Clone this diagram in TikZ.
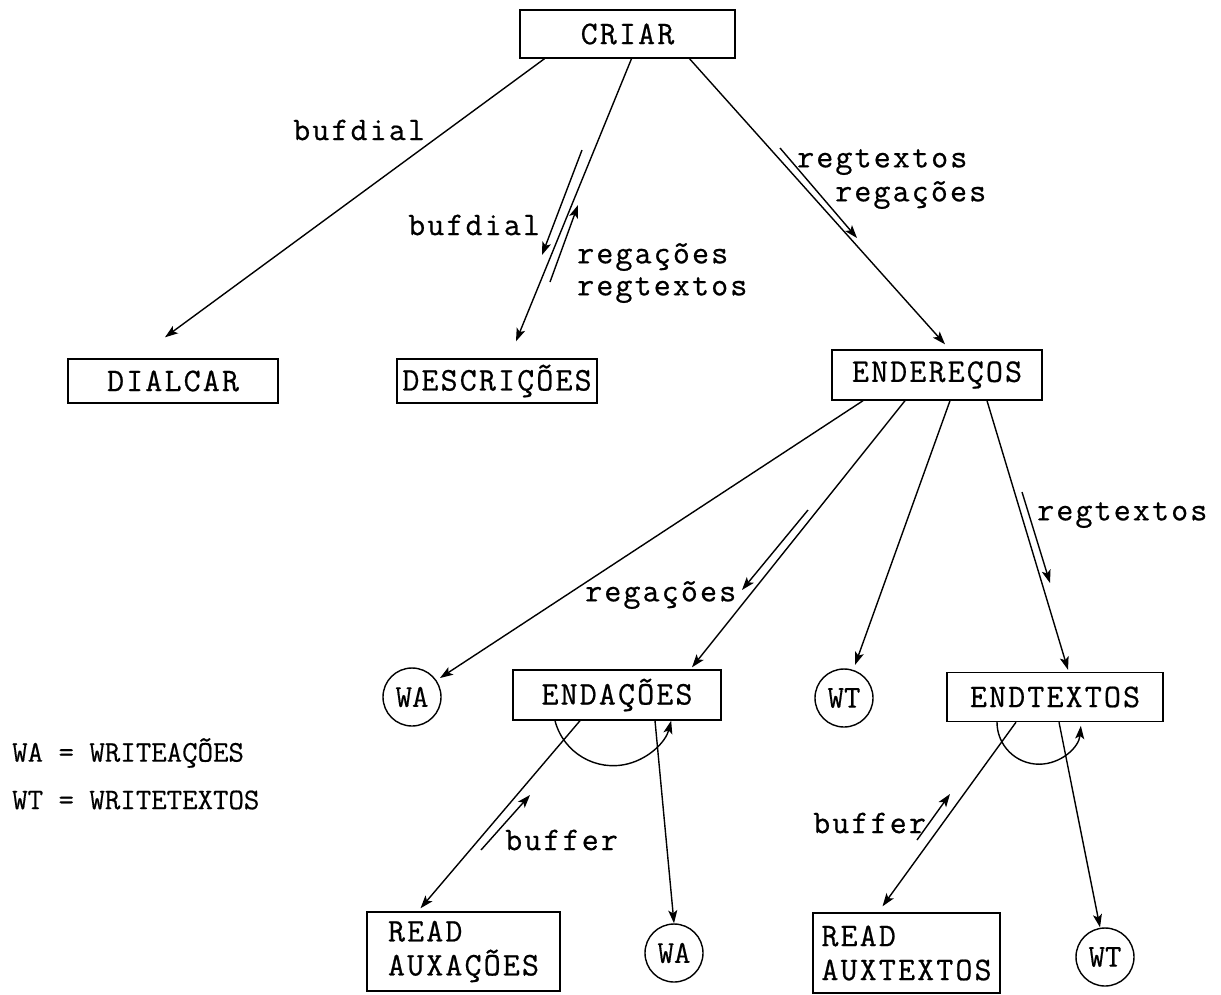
\documentclass[tikz,border=0pt]{standalone}
\usepackage{fontspec}
\newfontfamily\tw{Latin Modern Mono}[LetterSpace=6.5,FakeBold=0.6]
\newfontfamily\cw{Latin Modern Mono}[FakeBold=0.4]
\usetikzlibrary{arrows.meta}
\begin{document}
\begin{tikzpicture}[x=1pt,y=-1pt,
  every node/.style={font=\tw\fontsize{33}{34}\selectfont},
  box/.style={draw, line width=1.4pt, inner sep=0pt, align=center},
  circ/.style={draw, circle, line width=1.4pt, minimum size=58pt, inner sep=0pt, font=\cw\fontsize{32}{32}\selectfont},
  con/.style={line width=1.4pt, -{Stealth[length=13pt,width=9pt,inset=3pt]}},
  lbl/.style={anchor=west, inner sep=0pt},
  leg/.style={anchor=west, inner sep=0pt, font=\cw\fontsize{30}{30}\selectfont},
]
\fill[white] (0,0) rectangle (1221,994);
\useasboundingbox (0,0) rectangle (1221,994);

% boxes and circles
\node[box, minimum width=215pt, minimum height=48pt] (criar) at (627.5,34) {CRIAR};
\node[box, minimum width=210pt, minimum height=44pt] (dialcar) at (173,381) {DIALCAR};
\node[box, minimum width=200pt, minimum height=44pt] (descricoes) at (497,381) {DESCRIÇÕES};
\node[box, minimum width=210pt, minimum height=50pt] (enderecos) at (937,375) {ENDEREÇOS};
\node[circ] (wa1) at (412,697) {WA};
\node[box, minimum width=208pt, minimum height=50pt] (endacoes) at (617,695) {ENDAÇÕES};
\node[circ] (wt1) at (844,698) {WT};
\node[box, minimum width=216pt, minimum height=49pt] (endtextos) at (1055,697) {ENDTEXTOS};
\node[box, align=left, minimum width=193pt, minimum height=79pt] (readaux) at (463.5,951.5) {READ\\AUXAÇÕES};
\node[circ] (wa2) at (674,953) {WA};
\node[box, align=left, minimum width=187pt, minimum height=80pt] (readtex) at (906.5,953) {READ\\AUXTEXTOS};
\node[circ] (wt2) at (1105,957) {WT};

% main connectors
\draw[con] ([shift={(-83,0)}]criar.south) -- ([shift={(-8,-21)}]dialcar.north);
\draw[con] ([shift={(4,0)}]criar.south) -- ([shift={(19,-17)}]descricoes.north);
\draw[con] ([shift={(62,0)}]criar.south) -- ([shift={(8,-5)}]enderecos.north);
\draw[con] ([shift={(-74,0)}]enderecos.south) -- ([shift={(28,-19)}]wa1.center);
\draw[con] ([shift={(-32,0)}]enderecos.south) -- ([shift={(75,-2)}]endacoes.north);
\draw[con] ([shift={(13,0)}]enderecos.south) -- ([shift={(11,-33)}]wt1.center);
\draw[con] ([shift={(50,0)}]enderecos.south) -- ([shift={(13,-2)}]endtextos.north);
\draw[con] ([shift={(-37,0)}]endacoes.south) -- ([shift={(-43,-3)}]readaux.north);
\draw[con] ([shift={(38,0)}]endacoes.south) -- (wa2.north);
\draw[con] ([shift={(-39,0)}]endtextos.south) -- ([shift={(-24,-6)}]readtex.north);
\draw[con] ([shift={(4,0)}]endtextos.south) -- ([shift={(-5,0)}]wt2.north);

% loops
\draw[con] ([shift={(-62,0)}]endacoes.south) arc[start angle=194.5, end angle=345.5, radius=60pt];
\draw[con] ([shift={(-58,0)}]endtextos.south) arc[start angle=180, end angle=355, radius=42pt];

% data-flow arrows
\coordinate (p1a) at (582,150); \coordinate (p1b) at (542,255);
\coordinate (p2a) at (550,282); \coordinate (p2b) at (578,205);
\coordinate (p3a) at (780,148); \coordinate (p3b) at (857,238);
\coordinate (p4a) at (808,510); \coordinate (p4b) at (742,590);
\coordinate (p5a) at (1022,492); \coordinate (p5b) at (1050,583);
\coordinate (p6a) at (481,850); \coordinate (p6b) at (530,795);
\coordinate (p7a) at (917,840); \coordinate (p7b) at (950,794);
\draw[con] (p1a) -- (p1b);
\draw[con] (p2a) -- (p2b);
\draw[con] (p3a) -- (p3b);
\draw[con] (p4a) -- (p4b);
\draw[con] (p5a) -- (p5b);
\draw[con] (p6a) -- (p6b);
\draw[con] (p7a) -- (p7b);

% labels
\node[lbl] (l1) at (293,130) {bufdial};
\node[lbl] (l2) at (408,225) {bufdial};
\node[lbl] (l3) at (577,257) {regações};
\node[lbl] (l4) at (577,290) {regtextos};
\node[lbl] (l5) at (797,162) {regtextos};
\node[lbl] (l6) at (835,195) {regações};
\node[lbl] (l7) at (585,595) {regações};
\node[lbl] (l8) at (1037,515) {regtextos};
\node[lbl] (l9) at (505,840) {buffer};
\node[lbl] (l10) at (813,823) {buffer};

% legend
\node[leg] (lg1) at (12,753) {WA = WRITEAÇÕES};
\node[leg] (lg2) at (12,800) {WT = WRITETEXTOS};
\end{tikzpicture}
\end{document}
